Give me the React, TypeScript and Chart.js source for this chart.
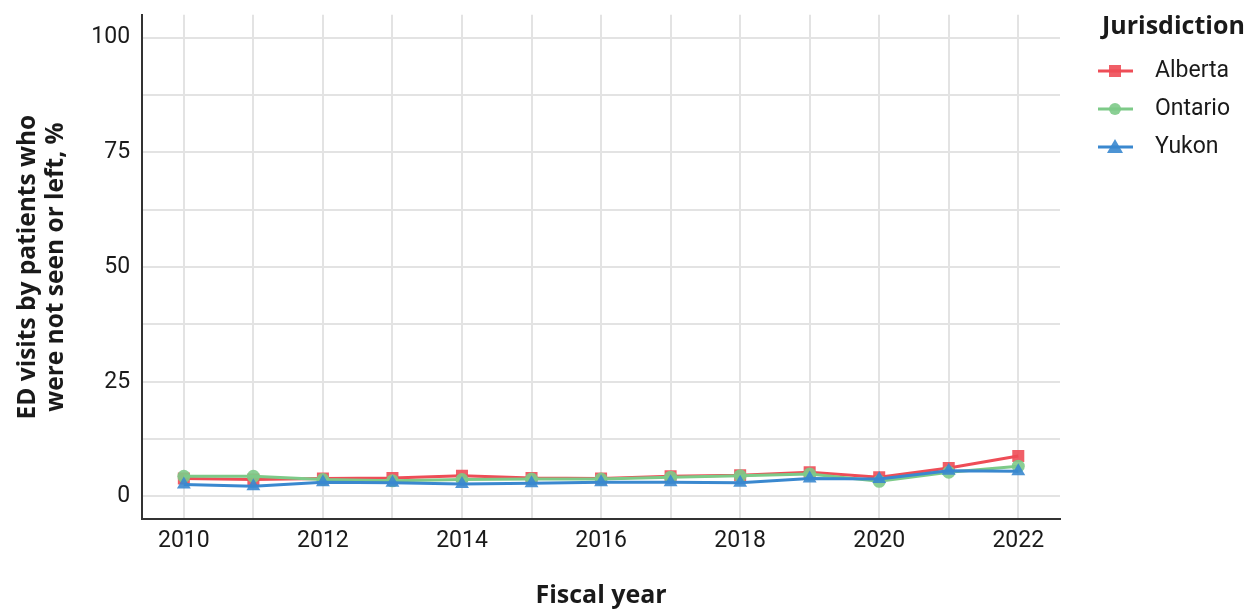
import React, { useEffect, useRef } from "react";
import { Chart, registerables } from "chart.js";
Chart.register(...registerables);

const years = [2010, 2011, 2012, 2013, 2014, 2015, 2016, 2017, 2018, 2019, 2020, 2021, 2022];
const alberta = [3.9, 3.7, 3.9, 4.0, 4.5, 4.0, 3.9, 4.4, 4.6, 5.3, 4.2, 6.2, 8.8];
const ontario = [4.4, 4.4, 3.7, 3.4, 3.7, 3.8, 3.8, 4.2, 4.5, 4.9, 3.3, 5.3, 6.6];
const yukon = [2.6, 2.2, 3.1, 3.0, 2.7, 2.9, 3.1, 3.1, 3.0, 3.9, 3.8, 5.6, 5.5];
const yTicks = [0, 25, 50, 75, 100];
const xTickYears = [2010, 2012, 2014, 2016, 2018, 2020, 2022];

const seriesNames = ["Alberta", "Ontario", "Yukon"];
const seriesColors = ["#ee4d57", "#7dca88", "#3a88cf"];
const seriesStyles = ["rect", "circle", "triangle"];
const seriesRadius = [8.5, 6.5, 8];

const FONT = "Roboto";
const TITLE_FONT = "'Open Sans'";
const TEXT = "#1a1a1a";
const SHIFT = 11;

const legendPlugin = {
  id: "customLegend",
  afterDraw(chart: any) {
    const ctx = chart.ctx;
    ctx.save();
    ctx.fillStyle = TEXT;
    ctx.font = `bold 25px ${TITLE_FONT}`;
    ctx.textBaseline = "middle";
    ctx.textAlign = "left";
    ctx.fillText("Jurisdiction", 1102, 27 + SHIFT);
    const ys = [71, 109, 147];
    seriesNames.forEach((name, i) => {
      const y = ys[i] + SHIFT;
      ctx.strokeStyle = seriesColors[i];
      ctx.lineWidth = 3;
      ctx.beginPath();
      ctx.moveTo(1098, y);
      ctx.lineTo(1133, y);
      ctx.stroke();
      ctx.fillStyle = seriesColors[i];
      ctx.globalAlpha = 0.9;
      const cx = 1115;
      if (seriesStyles[i] === "rect") {
        ctx.fillRect(cx - 6, y - 6, 12, 12);
      } else if (seriesStyles[i] === "circle") {
        ctx.beginPath();
        ctx.arc(cx, y, 6, 0, Math.PI * 2);
        ctx.fill();
      } else {
        ctx.beginPath();
        ctx.moveTo(cx, y - 8);
        ctx.lineTo(cx + 8, y + 6);
        ctx.lineTo(cx - 8, y + 6);
        ctx.closePath();
        ctx.fill();
      }
      ctx.globalAlpha = 1;
      ctx.fillStyle = TEXT;
      ctx.font = `23px ${FONT}`;
      ctx.fillText(name, 1155, y);
    });
    ctx.restore();
  },
};

export default function App() {
  const ref = useRef<HTMLCanvasElement | null>(null);
  useEffect(() => {
    if (!ref.current) return;
    const seriesData = [alberta, ontario, yukon];
    const chart = new Chart(ref.current, {
      type: "line",
      data: {
        datasets: seriesData.map((vals, i) => ({
          label: seriesNames[i],
          data: years.map((yr, j) => ({ x: yr, y: vals[j] })),
          borderColor: seriesColors[i],
          backgroundColor: seriesColors[i] + "e6",
          borderWidth: 3,
          pointStyle: seriesStyles[i] as any,
          pointRadius: seriesRadius[i],
          pointBorderWidth: 0,
          pointBorderColor: seriesColors[i],
          pointBackgroundColor: seriesColors[i] + "e6",
          tension: 0,
          order: 2 - i,
        })),
      },
      options: {
        animation: false,
        responsive: false,
        maintainAspectRatio: false,
        layout: { padding: { left: 14, right: 185, top: 0, bottom: 0 } },
        plugins: { legend: { display: false }, tooltip: { enabled: false } },
        scales: {
          x: {
            type: "linear",
            min: 2009.4,
            max: 2022.6,
            grid: { color: "#e3e3e3", lineWidth: 2, drawTicks: false },
            border: { color: "#333333", width: 2 },
            ticks: {
              stepSize: 1,
              includeBounds: false,
              autoSkip: false,
              maxRotation: 0,
              padding: 8,
              color: TEXT,
              font: { family: FONT, size: 23 },
              callback: (v: any) => (xTickYears.includes(Number(v)) ? String(v) : ""),
            },
            title: {
              display: true,
              text: "Fiscal year",
              color: TEXT,
              font: { family: TITLE_FONT, size: 25, weight: "bold" },
              padding: { top: 18, bottom: 0 },
            },
          },
          y: {
            type: "linear",
            min: -5,
            max: 105,
            grid: { color: "#e3e3e3", lineWidth: 2, drawTicks: false },
            border: { color: "#333333", width: 2 },
            ticks: {
              stepSize: 12.5,
              includeBounds: false,
              padding: 12,
              color: TEXT,
              font: { family: FONT, size: 23 },
              callback: (v: any) => (yTicks.includes(Number(v)) ? String(v) : ""),
            },
            title: {
              display: true,
              text: ["ED visits by patients who", "were not seen or left, %"],
              color: TEXT,
              font: { family: TITLE_FONT, size: 24.5, weight: "bold", lineHeight: 1.15 },
              padding: { top: 0, bottom: 9 },
            },
          },
        },
      },
      plugins: [legendPlugin],
    });
    return () => chart.destroy();
  }, []);
  return (
    <div style={{ position: "fixed", left: 0, top: 0, width: 1245, height: 611, background: "#fff", overflow: "hidden" }}>
      <canvas
        ref={ref}
        width={1245}
        height={611 + SHIFT}
        style={{ position: "absolute", left: 0, top: -SHIFT, width: 1245, height: 611 + SHIFT }}
      />
    </div>
  );
}
